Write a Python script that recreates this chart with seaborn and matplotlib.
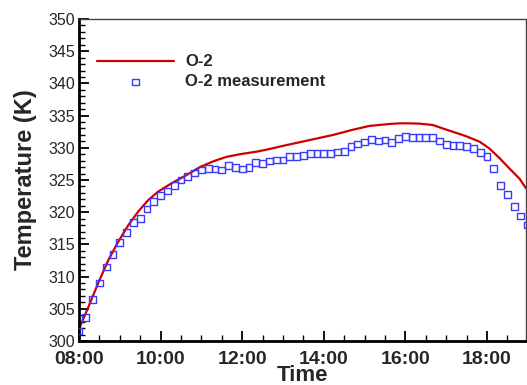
import matplotlib
matplotlib.use("Agg")
import matplotlib.pyplot as plt
import matplotlib.ticker as mticker
import seaborn as sns
import pandas as pd

# simulated curve (hours, K)
model_hours = [8.0, 8.02, 8.23, 8.47, 8.72, 8.96, 9.21, 9.45, 9.70, 9.94, 10.27,
               10.59, 10.96, 11.29, 11.62, 11.94, 12.35, 12.59, 13.0, 13.65,
               14.23, 14.71, 15.12, 15.61, 15.86, 16.10, 16.35, 16.67, 16.92,
               17.16, 17.49, 17.82, 18.06, 18.31, 18.55, 18.80, 18.96]
model_temp = [301.8, 302.2, 305.3, 309.0, 312.6, 315.4, 318.0, 320.1, 321.9, 323.2, 324.5,
              325.6, 327.0, 327.9, 328.6, 329.0, 329.4, 329.7, 330.3, 331.2,
              332.0, 332.8, 333.4, 333.7, 333.8, 333.8, 333.75, 333.55, 333.0,
              332.5, 331.8, 330.95, 329.9, 328.4, 326.8, 325.2, 323.7]

# measurement, every 10 minutes
meas_time = ["08:00", "08:10", "08:20", "08:30", "08:40", "08:50",
             "09:00", "09:10", "09:20", "09:30", "09:40", "09:50",
             "10:00", "10:10", "10:20", "10:30", "10:40", "10:50",
             "11:00", "11:10", "11:20", "11:30", "11:40", "11:50",
             "12:00", "12:10", "12:20", "12:30", "12:40", "12:50",
             "13:00", "13:10", "13:20", "13:30", "13:40", "13:50",
             "14:00", "14:10", "14:20", "14:30", "14:40", "14:50",
             "15:00", "15:10", "15:20", "15:30", "15:40", "15:50",
             "16:00", "16:10", "16:20", "16:30", "16:40", "16:50",
             "17:00", "17:10", "17:20", "17:30", "17:40", "17:50",
             "18:00", "18:10", "18:20", "18:30", "18:40", "18:50", "19:00"]
meas_temp = [301.55, 303.7, 306.5, 309.0, 311.5, 313.4,
             315.3, 316.8, 318.4, 319.0, 320.5, 321.6,
             322.6, 323.3, 324.1, 325.0, 325.5, 326.1,
             326.55, 326.8, 326.7, 326.55, 327.3, 327.0,
             326.7, 327.0, 327.7, 327.6, 327.95, 328.1,
             328.1, 328.6, 328.7, 328.8, 329.1, 329.1,
             329.1, 329.1, 329.35, 329.45, 330.2, 330.6,
             330.9, 331.3, 331.05, 331.2, 330.85, 331.4,
             331.7, 331.6, 331.6, 331.6, 331.6, 331.05,
             330.55, 330.3, 330.3, 330.2, 329.9, 329.25,
             328.6, 326.8, 324.2, 322.7, 320.9, 319.4, 318.0]

model = pd.DataFrame({"hour": model_hours, "T": model_temp})
meas = pd.DataFrame({"time": meas_time, "T": meas_temp})
hm = meas["time"].str.split(":", expand=True).astype(int)
meas["hour"] = hm[0] + hm[1] / 60.0

sns.set_style("white")
plt.rcParams["font.family"] = ["Liberation Sans", "DejaVu Sans"]

fig = plt.figure(figsize=(5.27, 3.85), dpi=100)
ax = fig.add_axes([0.150, 0.1143, 0.849, 0.8363])

sns.lineplot(data=model, x="hour", y="T", color="#cc0000", linewidth=1.6,
             sort=False, ax=ax, label="O-2")
sns.scatterplot(data=meas, x="hour", y="T", marker="s", s=24,
                facecolor="none", edgecolor="#3a3aff", linewidth=1.0,
                ax=ax, label="O-2 measurement", clip_on=True, zorder=3)

ax.set_xlim(8, 18.97)
ax.set_ylim(300, 350)
ax.xaxis.set_major_locator(mticker.MultipleLocator(2))
ax.xaxis.set_minor_locator(mticker.MultipleLocator(0.5))
ax.yaxis.set_major_locator(mticker.MultipleLocator(5))
ax.yaxis.set_minor_locator(mticker.MultipleLocator(1))
ax.xaxis.set_major_formatter(mticker.FuncFormatter(lambda v, p: f"{int(round(v)):02d}:00"))

ax.tick_params(which="major", direction="in", length=7, width=1.3, color="black",
               left=True, bottom=True, top=False, right=False)
ax.tick_params(which="minor", direction="in", length=4, width=1.0, color="black",
               left=True, bottom=True, top=False, right=False)
ax.tick_params(axis="y", which="major", labelsize=11.5, pad=3)
ax.tick_params(axis="x", which="major", labelsize=14, pad=7)
for lab in ax.get_xticklabels():
    lab.set_fontweight("bold")

for side in ["left", "bottom"]:
    ax.spines[side].set_linewidth(2.0)
    ax.spines[side].set_color("black")
for side in ["top", "right"]:
    ax.spines[side].set_linewidth(1.0)
    ax.spines[side].set_color("#444444")

ax.set_xlabel("Time", fontsize=16, fontweight="bold", labelpad=-2)
ax.set_ylabel("Temperature (K)", fontsize=17, fontweight="bold", labelpad=8)

leg = ax.legend(loc="upper left", bbox_to_anchor=(0.04, 0.89), frameon=False,
                borderaxespad=0, borderpad=0, handlelength=4.6, handletextpad=0.7,
                labelspacing=0.3, prop={"weight": "bold", "size": 12})

fig.savefig("out.png", dpi=100)
